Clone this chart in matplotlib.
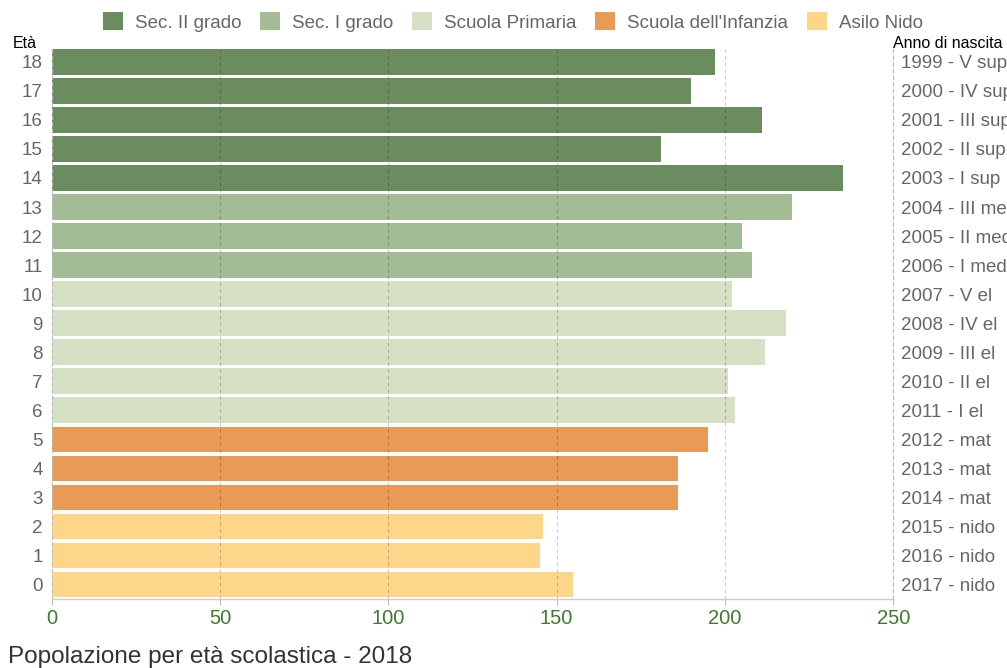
import matplotlib
matplotlib.use("Agg")
import matplotlib.pyplot as plt
from matplotlib.patches import Patch

plt.rcParams['font.family'] = ['Liberation Sans', 'DejaVu Sans']

ages = list(range(19))
values = [155, 145, 146, 186, 186, 195, 203, 201, 212, 218, 202,
          208, 205, 220, 235, 181, 211, 190, 197]
birth_labels = ["2017 - nido", "2016 - nido", "2015 - nido",
                "2014 - mat", "2013 - mat", "2012 - mat",
                "2011 - I el", "2010 - II el", "2009 - III el", "2008 - IV el", "2007 - V el",
                "2006 - I med", "2005 - II med", "2004 - III med",
                "2003 - I sup", "2002 - II sup", "2001 - III sup", "2000 - IV sup", "1999 - V sup"]
groups = ["Sec. II grado", "Sec. I grado", "Scuola Primaria", "Scuola dell'Infanzia", "Asilo Nido"]
group_colors = ["#6b8c5e", "#a2bd96", "#d5e0c5", "#e99a55", "#fed68a"]
# group index for each age 0..18
age_group = [4, 4, 4, 3, 3, 3, 2, 2, 2, 2, 2, 1, 1, 1, 0, 0, 0, 0, 0]

W, H = 1007, 668
fig = plt.figure(figsize=(W / 100, H / 100), dpi=100)
left, right, top, bottom = 51.6, 893.3, 47.6, 599.3
ax = fig.add_axes([left / W, 1 - bottom / H, (right - left) / W, (bottom - top) / H])

bar_colors = [group_colors[g] for g in age_group]
ax.barh(ages, values, height=0.88, color=bar_colors, zorder=2)

ax.set_xlim(0, 250)
ax.set_ylim(-0.51, 18.49)
ax.set_xticks([0, 50, 100, 150, 200, 250])
ax.set_yticks(ages)
ax.set_yticklabels([str(a) for a in ages])

grid_kw = dict(color="black", alpha=0.22, linewidth=0.8, linestyle=(0, (3, 3)), zorder=3)
for xv in [50, 100, 150, 200, 250]:
    ax.axvline(xv, **grid_kw)

for s in ["top", "right"]:
    ax.spines[s].set_visible(False)
ax.spines["left"].set_color("#bbbbbb")
ax.spines["left"].set_linestyle((0, (3, 3)))
ax.spines["left"].set_linewidth(0.8)
ax.spines["bottom"].set_color("#cccccc")
ax.spines["bottom"].set_linewidth(1.0)

ax.tick_params(axis="x", length=4, width=0.8, color="#bbbbbb", labelcolor="#3f7a2e",
               labelsize=14.5, pad=3)
ax.tick_params(axis="y", length=0, labelcolor="#666666", labelsize=13.5, pad=6.5)

# right side: birth year labels
ax2 = ax.twinx()
ax2.set_ylim(ax.get_ylim())
ax2.set_yticks(ages)
ax2.set_yticklabels(birth_labels)
ax2.tick_params(axis="y", length=0, labelcolor="#666666", labelsize=13.5, pad=5.5)
for s in ["top", "left", "bottom"]:
    ax2.spines[s].set_visible(False)
ax2.spines["right"].set_color("#bbbbbb")
ax2.spines["right"].set_linestyle((0, (3, 3)))
ax2.spines["right"].set_linewidth(0.8)

fig.text(13 / W, 1 - 48 / H, "Età", fontsize=11.5, color="black", va="baseline")
fig.text(893 / W, 1 - 48 / H, "Anno di nascita", fontsize=11.5, color="black", va="baseline")
fig.text(8 / W, 1 - 663 / H, "Popolazione per età scolastica - 2018", fontsize=17.5,
         color="#333333", va="baseline")

handles = [Patch(facecolor=c, edgecolor="none") for c in group_colors]
fig.legend(handles, groups, loc="center", bbox_to_anchor=(513 / W, 1 - 22 / H), ncol=5,
           frameon=False, fontsize=13.5, labelcolor="#666666", handlelength=1.07,
           handleheight=1.07, handletextpad=0.64, columnspacing=1.0)

fig.savefig("out.png", dpi=100, facecolor="white")
